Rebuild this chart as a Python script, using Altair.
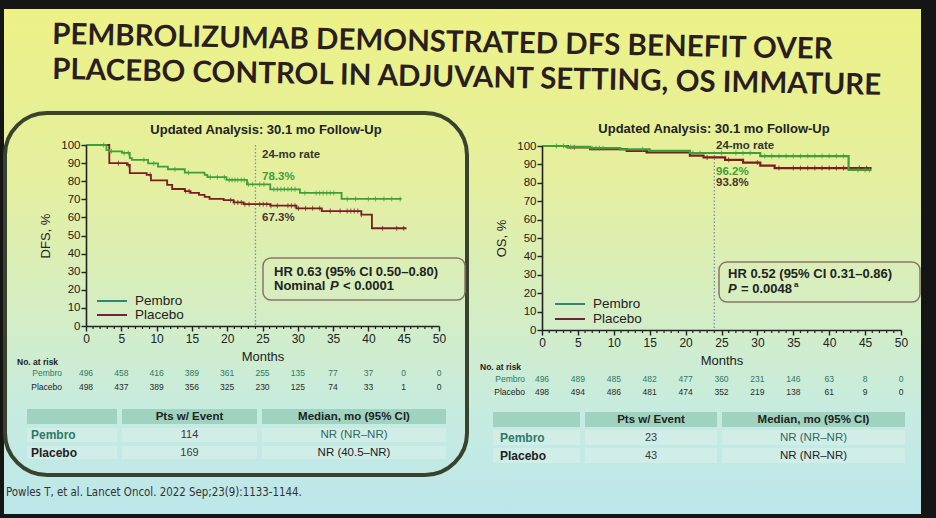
import altair as alt
import pandas as pd

# ---------------- data ----------------
month_ticks = list(range(0, 51, 5))
minor_months = [m for m in range(1, 50) if m % 5 != 0]
pct_ticks = list(range(0, 101, 10))

# DFS Kaplan-Meier steps (months, % event-free)
dfs_pembro_t = [0, 2.9, 3.3, 5.1, 6.2, 6.5, 8.8, 10.2, 11.6, 14.0, 16.8, 17.2, 19.9, 22.8, 26.1, 30.3, 36.2, 44.7]
dfs_pembro_s = [100, 97.2, 96.5, 95.6, 92.8, 91.8, 89.8, 88.0, 86.6, 84.7, 83.5, 82.2, 80.7, 78.3, 75.5, 73.5, 70.2, 70.2]
dfs_placebo_t = [0, 3.3, 5.8, 6.2, 8.6, 9.2, 11.5, 12.2, 14.0, 14.8, 16.0, 16.8, 17.5, 19.5, 20.9, 22.3, 26.1, 29.8, 33.4, 39.0, 40.5, 45.4]
dfs_placebo_s = [100, 90.0, 89.0, 84.5, 83.5, 80.5, 78.0, 75.7, 74.5, 73.5, 72.5, 71.3, 70.2, 69.5, 68.3, 67.3, 66.5, 65.0, 63.5, 61.5, 54.0, 54.0]
dfs_pembro_cens = [2.5, 3.6, 5.4, 6.0, 8.2, 9.6, 12.6, 14.5, 17.6, 18.6, 19.6, 20.3, 20.7, 21.1, 21.5, 22.0, 22.4, 23.0, 23.6, 24.6, 25.2,
                   26.6, 27.1, 27.6, 28.1, 28.6, 29.1, 29.6, 31.0, 32.6, 33.1, 33.6, 34.1, 34.6, 35.1, 37.0, 38.2, 40.0, 41.0, 42.2, 43.3, 44.5]
dfs_placebo_cens = [4.6, 6.0, 9.1, 14.1, 14.6, 20.5, 21.0, 21.5, 22.0, 22.5, 23.1, 24.6, 25.1, 25.6, 26.2, 27.1, 28.6, 29.1, 29.6, 30.1,
                    31.1, 32.1, 33.1, 34.6, 36.0, 37.0, 37.5, 38.0, 38.5, 39.0, 42.0, 44.0, 45.0]

# OS Kaplan-Meier steps (months, % alive)
os_pembro_t = [0, 3.4, 6.7, 10.9, 15.0, 20.6, 30.4, 42.7, 45.9]
os_pembro_s = [100, 99.5, 98.8, 98.2, 97.3, 96.2, 94.5, 87.0, 87.0]
os_placebo_t = [0, 3.6, 6.7, 11.8, 14.6, 20.6, 22.5, 25.5, 28.0, 30.4, 32.4, 45.9]
os_placebo_s = [100, 99.3, 98.3, 97.3, 96.5, 94.8, 93.8, 92.5, 91.0, 89.3, 88.0, 88.0]
os_pembro_cens = [2.0, 3.0, 4.0, 7.0, 7.5, 8.0, 8.5, 14.0, 21.0, 22.0, 25.0, 27.0, 28.0, 29.0, 31.0, 32.0, 33.0, 34.0, 35.0,
                  36.0, 37.0, 38.0, 39.0, 40.0, 41.0, 42.0, 44.0, 45.0, 45.6]
os_placebo_cens = [4.5, 14.5, 23.0, 26.0, 30.0, 33.0, 35.0, 36.0, 37.0, 38.0, 39.0, 40.0, 41.0, 42.0, 44.2, 45.2]

# numbers at risk
risk_months = list(range(0, 51, 5))
dfs_risk_pembro = [496, 458, 416, 389, 361, 255, 135, 77, 37, 0, 0]
dfs_risk_placebo = [498, 437, 389, 356, 325, 230, 125, 74, 33, 1, 0]
os_risk_pembro = [496, 489, 485, 482, 477, 360, 231, 146, 63, 8, 0]
os_risk_placebo = [498, 494, 486, 481, 474, 352, 219, 138, 61, 9, 0]

# summary tables
arms = ["Pembro", "Placebo"]
dfs_events = [114, 169]
dfs_median = ["NR (NR–NR)", "NR (40.5–NR)"]
os_events = [23, 43]
os_median = ["NR (NR–NR)", "NR (NR–NR)"]

dfs_rate24 = [78.3, 67.3]
os_rate24 = [96.2, 93.8]

# ---------------- styling ----------------
FONT = "Liberation Sans, Arial, sans-serif"
NARROW = "Liberation Sans Narrow, DejaVu Sans Condensed, Liberation Sans, sans-serif"
TITLE_FONT = "Lato, Open Sans, sans-serif"
INK = "#222222"
GREEN = "#3f9e3a"
MAROON = "#7b1c24"
TEAL = "#2c7a66"
TEAL_TXT = "#2f6a5c"
LEG_PEMBRO = "#2b8a72"
LEG_PLACEBO = "#6e2436"
W, H = 936, 518

one = pd.DataFrame({"k": [0]})


def txt(s, x, y, size=11, weight="normal", color=INK, align="left", baseline="middle",
        style="normal", angle=0, font=FONT):
    return alt.Chart(one).mark_text(
        text=s, fontSize=size, fontWeight=weight, color=color, align=align,
        baseline=baseline, fontStyle=style, font=font, angle=angle
    ).encode(x=alt.value(x), y=alt.value(y))


def box(x, x2, y, y2, **kw):
    return alt.Chart(one).mark_rect(**kw).encode(
        x=alt.value(x), x2=alt.value(x2), y=alt.value(y), y2=alt.value(y2))


def hline(x, x2, y, color, width=2):
    return alt.Chart(one).mark_rule(color=color, strokeWidth=width).encode(
        x=alt.value(x), x2=alt.value(x2), y=alt.value(y))


def step_at(times, surv, t):
    v = surv[0]
    for ti, si in zip(times, surv):
        if ti <= t:
            v = si
    return v


def km_panel(g, ylabel, pem_t, pem_s, pla_t, pla_s, pem_c, pla_c, risk_p, risk_c, rates,
             line_w=1.8):
    xs = alt.Scale(domain=[0, 50], range=[g["x0"], g["x1"]], nice=False, zero=False)
    ys = alt.Scale(domain=[0, 100], range=[g["y0"], g["y1"]], nice=False, zero=False)
    layers = []

    # minor month ticks below the axis
    layers.append(
        alt.Chart(pd.DataFrame({"m": minor_months})).mark_rule(color=INK, strokeWidth=1.2).encode(
            x=alt.X("m:Q", scale=xs, axis=None),
            y=alt.value(g["y0"]), y2=alt.value(g["y0"] + 3))
    )

    # 24-month reference line
    layers.append(
        alt.Chart(one).mark_rule(color="#7f8fa3", strokeDash=[1.5, 2], strokeWidth=1.3).encode(
            x=alt.X(datum=24, scale=xs, axis=None),
            y=alt.Y(datum=g["dot_top"], scale=ys, axis=None),
            y2=alt.Y2(datum=0))
    )

    def curve(t, s, color, axes=False):
        if axes:
            xa = alt.Axis(values=month_ticks, title="Months", orient="bottom", offset=g["y0"] - H,
                          tickSize=5, tickWidth=1.4, tickColor=INK, domainColor=INK, domainWidth=1.6,
                          labelFont=FONT, labelFontSize=12, labelColor=INK, labelPadding=2,
                          labelFlush=False, titleFont=FONT, titleFontSize=13,
                          titleFontWeight="normal", titleColor=INK, titlePadding=6, grid=False,
                          zindex=1)
            ya = alt.Axis(values=pct_ticks, title=ylabel, orient="left", offset=-g["x0"],
                          tickSize=5, tickWidth=1.4, tickColor=INK, domainColor=INK, domainWidth=1.6,
                          labelFont=FONT, labelFontSize=11.5, labelColor=INK, labelPadding=1,
                          labelFlush=False, titleFont=FONT, titleFontSize=13,
                          titleFontWeight="normal", titleColor=INK, titlePadding=8, grid=False,
                          zindex=1)
        else:
            xa = None
            ya = None
        return alt.Chart(pd.DataFrame({"t": t, "s": s})).mark_line(
            interpolate="step-after", color=color, strokeWidth=line_w).encode(
            x=alt.X("t:Q", scale=xs, axis=xa), y=alt.Y("s:Q", scale=ys, axis=ya))

    def censors(c, t, s, color):
        df = pd.DataFrame({"t": c, "s": [step_at(t, s, ci) for ci in c]})
        return alt.Chart(df).mark_tick(orient="vertical", size=5, thickness=1.1, color=color).encode(
            x=alt.X("t:Q", scale=xs, axis=None), y=alt.Y("s:Q", scale=ys, axis=None))

    layers.append(curve(pla_t, pla_s, MAROON, axes=True))
    layers.append(censors(pla_c, pla_t, pla_s, MAROON))
    layers.append(curve(pem_t, pem_s, GREEN))
    layers.append(censors(pem_c, pem_t, pem_s, GREEN))

    # numbers at risk
    for vals, yy, col in [(risk_p, g["risk_y"][0], TEAL), (risk_c, g["risk_y"][1], "#2b2b2b")]:
        layers.append(
            alt.Chart(pd.DataFrame({"m": risk_months, "n": vals})).mark_text(
                fontSize=8.5, font=FONT, color=col, baseline="middle").encode(
                x=alt.X("m:Q", scale=xs, axis=None), y=alt.value(yy), text="n:Q")
        )

    # 24-month rate annotations
    rx, ry = g["rate_xy"]
    layers.append(txt("24-mo rate", rx, ry[0], size=11.5, weight="bold", color="#333333"))
    layers.append(txt(f"{rates[0]}%", rx, ry[1], size=11.5, weight="bold", color=GREEN))
    layers.append(txt(f"{rates[1]}%", rx, ry[2], size=11.5, weight="bold", color="#4a3434"))
    return layers


left = dict(x0=86, x1=439, y0=326, y1=145, dot_top=100, risk_y=[373, 387],
            rate_xy=(262, [155, 177, 218]))
right = dict(x0=542, x1=901, y0=330, y1=146, dot_top=97, risk_y=[379, 392],
             rate_xy=(716, [146, 172, 183]))

layers = []

# slide surface
gradient = alt.LinearGradient(
    gradient="linear",
    stops=[alt.GradientStop(color="#edf186", offset=0),
           alt.GradientStop(color="#e4efa0", offset=0.35),
           alt.GradientStop(color="#d4edc4", offset=0.6),
           alt.GradientStop(color="#c6ebe0", offset=0.8),
           alt.GradientStop(color="#bce6ea", offset=1)],
    x1=0, x2=0, y1=0, y2=1)
layers.append(box(4, 921, 9, 514, fill=gradient))

# slide headline
layers.append(txt("PEMBROLIZUMAB DEMONSTRATED DFS BENEFIT  OVER", 52, 44, size=29.5, weight="bold",
                  color="#2a1e1e", baseline="alphabetic", angle=1.1, font=TITLE_FONT))
layers.append(txt("PLACEBO CONTROL IN ADJUVANT SETTING, OS IMMATURE", 52, 79, size=29.5, weight="bold",
                  color="#2a1e1e", baseline="alphabetic", angle=1.1, font=TITLE_FONT))

# left panel frame
layers.append(box(5, 467, 113, 475, fillOpacity=0, fill="white", stroke="#39422c",
                  strokeWidth=4, cornerRadius=42))

# panel headings
layers.append(txt("Updated Analysis: 30.1 mo Follow-Up", 266, 130, size=13, weight="bold", align="center"))
layers.append(txt("Updated Analysis: 30.1 mo Follow-Up", 714, 129, size=13, weight="bold", align="center"))

# KM panels
layers += km_panel(left, "DFS, %", dfs_pembro_t, dfs_pembro_s, dfs_placebo_t, dfs_placebo_s,
                   dfs_pembro_cens, dfs_placebo_cens, dfs_risk_pembro, dfs_risk_placebo, dfs_rate24)
layers += km_panel(right, "OS, %", os_pembro_t, os_pembro_s, os_placebo_t, os_placebo_s,
                   os_pembro_cens, os_placebo_cens, os_risk_pembro, os_risk_placebo, os_rate24,
                   line_w=2.2)

# legends
for (lx, ly) in [((97, 127, 135), (301, 315)), ((555, 585, 593), (304, 319))]:
    layers.append(hline(lx[0], lx[1], ly[0], LEG_PEMBRO))
    layers.append(hline(lx[0], lx[1], ly[1], LEG_PLACEBO))
    layers.append(txt(arms[0], lx[2], ly[0], size=13.5))
    layers.append(txt(arms[1], lx[2], ly[1], size=13.5))

# hazard ratio boxes
layers.append(box(263, 465, 258, 300, fillOpacity=0, fill="white", stroke="#8a7468",
                  strokeWidth=1.5, cornerRadius=8))
layers.append(txt("HR 0.63 (95% CI 0.50–0.80)", 274, 271.5, size=13, weight="bold"))
layers.append(txt("Nominal", 274, 286, size=13, weight="bold"))
layers.append(txt("P", 330, 286, size=13, weight="bold", style="italic"))
layers.append(txt("< 0.0001", 343, 286, size=13, weight="bold"))

layers.append(box(719, 920, 262, 302, fillOpacity=0, fill="white", stroke="#8a7468",
                  strokeWidth=1.5, cornerRadius=8))
layers.append(txt("HR 0.52 (95% CI 0.31–0.86)", 728, 274, size=13, weight="bold"))
layers.append(txt("P", 728, 289, size=13, weight="bold", style="italic"))
layers.append(txt("= 0.0048", 741, 289, size=13, weight="bold"))
layers.append(txt("a", 794, 285, size=8, weight="bold"))

# number-at-risk row labels
layers.append(txt("No. at risk", 17, 362, size=8.5, weight="bold"))
layers.append(txt("Pembro", 62, 373, size=8.5, color=TEAL, align="right"))
layers.append(txt("Placebo", 62, 387, size=8.5, align="right"))
layers.append(txt("No. at risk", 480, 367, size=8.5, weight="bold"))
layers.append(txt("Pembro", 525, 379, size=8.5, color=TEAL, align="right"))
layers.append(txt("Placebo", 525, 392, size=8.5, align="right"))


# summary tables
def summary(cols, hdr_y, rows_y, events, medians, label_x):
    out = []
    for (a, b) in cols:
        out.append(box(a, b, hdr_y[0], hdr_y[1], fill="#9fd2bf"))
        for (r0, r1) in rows_y:
            out.append(box(a, b, r0, r1, fill="#e2f1ec", opacity=0.45))
    hc = (hdr_y[0] + hdr_y[1]) / 2
    c2 = (cols[1][0] + cols[1][1]) / 2
    c3 = (cols[2][0] + cols[2][1]) / 2
    out.append(txt("Pts w/ Event", c2, hc, size=11.5, weight="bold", align="center"))
    out.append(txt("Median, mo (95%  CI)", c3, hc, size=11.5, weight="bold", align="center"))
    for i, (r0, r1) in enumerate(rows_y):
        rc = (r0 + r1) / 2
        col = TEAL_TXT if i == 0 else INK
        out.append(txt(arms[i], label_x, rc, size=12, weight="bold", color=TEAL if i == 0 else INK))
        out.append(txt(str(events[i]), c2, rc, size=11, color="#3a3a3a", align="center"))
        out.append(txt(medians[i], c3, rc, size=11.5, color=col, align="center"))
    return out


layers += summary([(27, 117), (122, 257), (262, 446)], (409, 424), [(428, 442), (446, 459)],
                  dfs_events, dfs_median, 31)
layers += summary([(493, 580), (585, 717), (722, 905)], (412, 427), [(430, 445), (448, 463)],
                  os_events, os_median, 500)

# reference
layers.append(txt("Powles T, et al. Lancet Oncol. 2022 Sep;23(9):1133-1144.", 6, 493, size=11.4,
                  color="#333333", font=NARROW))

chart = alt.layer(*layers).resolve_scale(x="independent", y="independent").properties(
    width=W, height=H, autosize=alt.AutoSizeParams(type="none"), padding=0,
    background="#151515"
).configure_view(strokeWidth=0)

chart.save("out.html", embed_options={"renderer": "svg", "actions": False})
